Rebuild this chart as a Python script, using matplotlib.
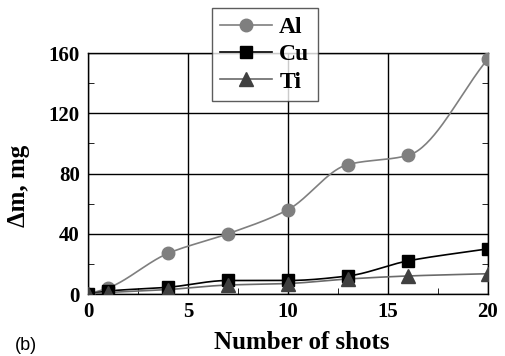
import numpy as np
import matplotlib
matplotlib.use("Agg")
import matplotlib.pyplot as plt

shots = [0, 1, 4, 7, 10, 13, 16, 20]
al = [0, 4, 27, 40, 56, 86, 92, 156]
cu = [0, 2, 4.5, 9, 9, 12, 22, 30]
ti = [0, 1, 3, 6, 7, 10, 12, 13.5]


def smooth(x, y, n=40):
    # monotone cubic (Fritsch-Carlson) through the points
    x = np.asarray(x, float)
    y = np.asarray(y, float)
    h = np.diff(x)
    d = np.diff(y) / h
    m = np.zeros_like(y)
    m[0], m[-1] = d[0], d[-1]
    for i in range(1, len(x) - 1):
        if d[i - 1] * d[i] > 0:
            w1 = 2 * h[i] + h[i - 1]
            w2 = h[i] + 2 * h[i - 1]
            m[i] = (w1 + w2) / (w1 / d[i - 1] + w2 / d[i])
    xs, ys = [], []
    for i in range(len(x) - 1):
        t = np.linspace(0, 1, n)
        h00 = 2 * t ** 3 - 3 * t ** 2 + 1
        h10 = t ** 3 - 2 * t ** 2 + t
        h01 = -2 * t ** 3 + 3 * t ** 2
        h11 = t ** 3 - t ** 2
        xs.extend(x[i] + t * h[i])
        ys.extend(h00 * y[i] + h10 * h[i] * m[i] + h01 * y[i + 1] + h11 * h[i] * m[i + 1])
    return xs, ys


plt.rcParams["font.family"] = ["Liberation Serif"]
plt.rcParams["font.weight"] = "bold"

fig = plt.figure(figsize=(5.06, 3.56), dpi=100)
ax = fig.add_axes([0.174, 0.174, 0.79, 0.677])

series = [
    ("Al", al, "o", "#7f7f7f", "#7f7f7f", 9),
    ("Cu", cu, "s", "#000000", "#000000", 8),
    ("Ti", ti, "^", "#404040", "#6a6a6a", 9.5),
]
for name, vals, mk, mcol, lcol, ms in series:
    sx, sy = smooth(shots, vals)
    ax.plot(sx, sy, color=lcol, lw=1.2, zorder=3)
    ax.plot(shots, vals, mk, color=mcol, ms=ms, zorder=4)
    ax.plot([], [], marker=mk, color=lcol, mfc=mcol, mec=mcol, ms=ms, lw=1.2, label=name)

ax.set_xlim(0, 20)
ax.set_ylim(0, 160)
ax.set_xticks([0, 5, 10, 15, 20])
ax.set_yticks([0, 40, 80, 120, 160])
ax.set_xticks([2.5, 7.5, 12.5, 17.5], minor=True)
ax.set_yticks([20, 60, 100, 140], minor=True)
ax.grid(True, which="major", color="black", lw=1.0)
ax.tick_params(which="both", direction="in", right=True, labelsize=15, pad=6)
ax.tick_params(which="major", length=0)
ax.tick_params(which="minor", length=4)
for s in ax.spines.values():
    s.set_linewidth(1.0)

ax.set_xlabel("Number of shots", fontsize=18, fontweight="bold")
ax.xaxis.set_label_coords(0.535, -0.155)
ax.set_ylabel("\u0394m, mg", fontsize=18, fontweight="bold")
ax.yaxis.set_label_coords(-0.145, 0.45)

leg = ax.legend(loc="upper left", bbox_to_anchor=(0.31, 1.187), borderaxespad=0,
                fontsize=17, frameon=True, fancybox=False, edgecolor="#333333",
                handlelength=2.2, handletextpad=0.3, borderpad=0.35, labelspacing=0.25)
leg.get_frame().set_linewidth(1.0)
leg.set_zorder(10)

fig.text(0.03, 0.017, "(b)", fontsize=13, fontweight="normal", family="Liberation Sans")

fig.savefig("out.png", dpi=100)
